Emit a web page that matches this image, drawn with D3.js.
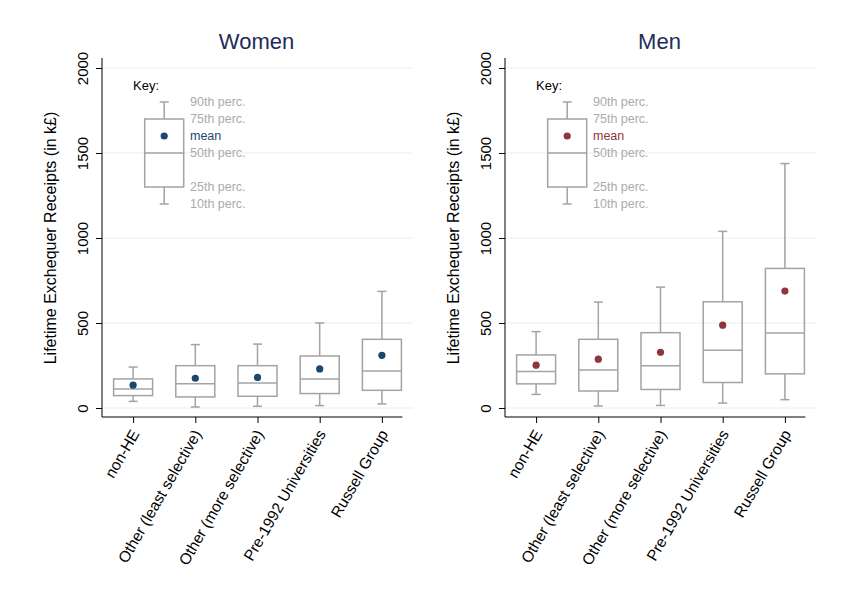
<!DOCTYPE html>
<html>
<head>
<meta charset="utf-8">
<script src="https://cdn.jsdelivr.net/npm/d3@7"></script>
<style>
  body { margin: 0; background: #fff; }
  text { font-family: "Liberation Sans", Arial, Helvetica, sans-serif; }
</style>
</head>
<body>
<div id="chart"></div>
<script>

// institution types on the x axis
var categories = ["non-HE", "Other (least selective)", "Other (more selective)",
                  "Pre-1992 Universities", "Russell Group"];

// women, k£
var womenP10  = [39, 6, 10, 14, 24];
var womenP25  = [73, 65, 69, 85, 104];
var womenP50  = [112, 143, 147, 171, 218];
var womenP75  = [171, 249, 249, 306, 404];
var womenP90  = [241, 373, 376, 500, 686];
var womenMean = [134, 175, 180, 230, 310];

// men, k£
var menP10  = [80, 12, 15, 29, 49];
var menP25  = [142, 100, 109, 150, 201];
var menP50  = [215, 224, 248, 340, 441];
var menP75  = [312, 404, 443, 625, 821];
var menP90  = [449, 623, 711, 1039, 1438];
var menMean = [252, 287, 328, 487, 688];

// the key box drawn inside each panel
var keyLabels = ["90th perc.", "75th perc.", "mean", "50th perc.", "25th perc.", "10th perc."];
var keyLevels = [1800, 1700, 1600, 1500, 1300, 1200];

var yTicks = [0, 500, 1000, 1500, 2000];
var yTitle = "Lifetime Exchequer Receipts (in k£)";

var W = 848, H = 615;

var svg = d3.select("#chart").append("svg")
            .attr("width", W).attr("height", H);

function toRows(p10, p25, p50, p75, p90, mean) {
  return categories.map(function (c, i) {
    return {cat: i, p10: p10[i], p25: p25[i], p50: p50[i], p75: p75[i], p90: p90[i], mean: mean[i]};
  });
}

function drawPanel(left, title, rows, dotColor) {

  var plotW = 311, top = 58, bottom = 417;

  var x = d3.scaleLinear().domain([-0.5, 4.5]).range([left, left + plotW]);
  var y = d3.scaleLinear().domain([0, 2000]).range([408, 68]);

  var boxW = 39, capW = 9, boxColor = "#a3a3a3";

  var g = svg.append("g");

  // grid
  g.selectAll(".grid").data(yTicks).enter().append("line")
   .attr("x1", left).attr("x2", left + plotW)
   .attr("y1", function (d) { return y(d); })
   .attr("y2", function (d) { return y(d); })
   .attr("stroke", "#e6eff1").attr("stroke-width", 1);

  // axes
  var yAxis = d3.axisLeft(y).tickValues(yTicks).tickSize(6).tickFormat(d3.format("d"));
  var ya = g.append("g").attr("transform", "translate(" + left + ",0)").call(yAxis);
  ya.select(".domain").attr("d", "M0," + top + "V" + bottom);
  ya.selectAll("line").attr("stroke", "#000");
  ya.selectAll("text")
    .attr("transform", "rotate(-90)")
    .attr("x", 0)
    .attr("y", -14)
    .attr("dy", "0")
    .style("text-anchor", "middle")
    .style("font-size", "15px")
    .attr("fill", "#000");

  var xa = g.append("g").attr("transform", "translate(0," + bottom + ")")
            .call(d3.axisBottom(x).tickValues(d3.range(categories.length))
                    .tickSize(6).tickFormat(""));
  xa.select(".domain").attr("d", "M" + left + ",0H" + (x(4) + boxW / 2 + 1));

  g.selectAll(".cat-label").data(categories).enter().append("text")
   .attr("transform", function (d, i) { return "translate(" + (x(i) + 2) + "," + (bottom + 14) + ") rotate(-60)"; })
   .attr("text-anchor", "end")
   .attr("dy", "0.35em")
   .style("font-size", "15.5px")
   .text(function (d) { return d; });

  // titles
  g.append("text")
   .attr("x", left + plotW / 2 - 1).attr("y", 49)
   .attr("text-anchor", "middle")
   .style("font-size", "22px")
   .attr("fill", "#1e2c5a")
   .text(title);

  g.append("text")
   .attr("transform", "translate(" + (left - 46) + "," + 238 + ") rotate(-90)")
   .attr("text-anchor", "middle")
   .style("font-size", "16px")
   .text(yTitle);

  // boxes
  var keyRow = {cat: 0.5, p10: keyLevels[5], p25: keyLevels[4], p50: keyLevels[3],
                p75: keyLevels[1], p90: keyLevels[0], mean: keyLevels[2]};

  var boxes = g.selectAll(".box").data(rows.concat([keyRow])).enter().append("g");

  boxes.append("line")
       .attr("x1", function (d) { return x(d.cat); }).attr("x2", function (d) { return x(d.cat); })
       .attr("y1", function (d) { return y(d.p90); }).attr("y2", function (d) { return y(d.p75); })
       .attr("stroke", boxColor).attr("stroke-width", 1.5);
  boxes.append("line")
       .attr("x1", function (d) { return x(d.cat); }).attr("x2", function (d) { return x(d.cat); })
       .attr("y1", function (d) { return y(d.p25); }).attr("y2", function (d) { return y(d.p10); })
       .attr("stroke", boxColor).attr("stroke-width", 1.5);
  ["p90", "p10"].forEach(function (k) {
    boxes.append("line")
         .attr("x1", function (d) { return x(d.cat) - capW / 2; })
         .attr("x2", function (d) { return x(d.cat) + capW / 2; })
         .attr("y1", function (d) { return y(d[k]); }).attr("y2", function (d) { return y(d[k]); })
         .attr("stroke", boxColor).attr("stroke-width", 1.5);
  });
  boxes.append("rect")
       .attr("x", function (d) { return x(d.cat) - boxW / 2; })
       .attr("width", boxW)
       .attr("y", function (d) { return y(d.p75); })
       .attr("height", function (d) { return y(d.p25) - y(d.p75); })
       .attr("fill", "none").attr("stroke", boxColor).attr("stroke-width", 1.5);
  boxes.append("line")
       .attr("x1", function (d) { return x(d.cat) - boxW / 2; })
       .attr("x2", function (d) { return x(d.cat) + boxW / 2; })
       .attr("y1", function (d) { return y(d.p50); }).attr("y2", function (d) { return y(d.p50); })
       .attr("stroke", boxColor).attr("stroke-width", 1.5);
  boxes.append("circle")
       .attr("cx", function (d) { return x(d.cat); })
       .attr("cy", function (d) { return y(d.mean); })
       .attr("r", 3.6)
       .attr("fill", dotColor);

  // key text
  g.append("text")
   .attr("x", x(0)).attr("y", y(1900)).attr("dy", "0.35em")
   .style("font-size", "13px")
   .text("Key:");

  g.selectAll(".key-label").data(keyLabels).enter().append("text")
   .attr("x", x(0.915))
   .attr("y", function (d, i) { return y(keyLevels[i]); })
   .attr("dy", "0.35em")
   .style("font-size", "12.5px")
   .attr("fill", function (d) { return d == "mean" ? dotColor : "#ababab"; })
   .text(function (d) { return d; });
}

drawPanel(102, "Women", toRows(womenP10, womenP25, womenP50, womenP75, womenP90, womenMean), "#1a476f");
drawPanel(505, "Men", toRows(menP10, menP25, menP50, menP75, menP90, menMean), "#90353b");

</script>
</body>
</html>
